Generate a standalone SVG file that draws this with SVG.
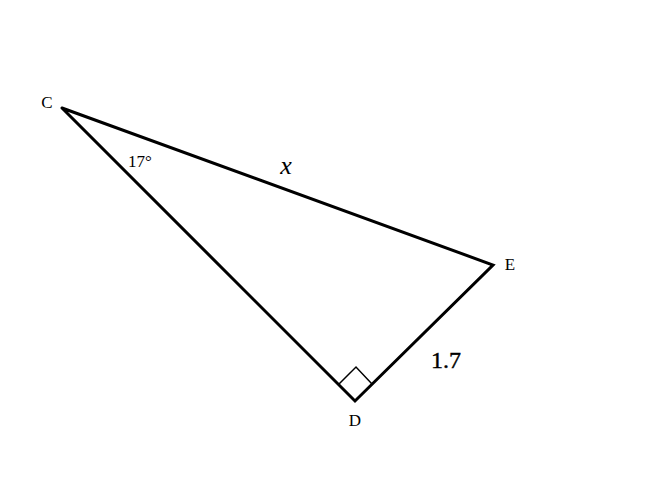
<svg xmlns="http://www.w3.org/2000/svg" width="670" height="502" viewBox="0 0 670 502">
<style>
.edge{fill:none;stroke:#000;stroke-width:3;stroke-linejoin:miter;stroke-linecap:round}
.mark{fill:none;stroke:#000;stroke-width:1.5}
.lbl{font-family:"Liberation Serif","DejaVu Serif",serif;fill:#000;text-anchor:middle}
</style>
<rect width="670" height="502" fill="#fff"/>
<g id="connectors">
<polyline class="edge" points="62,108 493,265 355,401 62,108"/>
<polyline class="mark" points="339,384 356,367 372,384"/>
</g>
<g id="C"><text class="lbl" x="47" y="108" font-size="17">C</text></g>
<g id="E"><text class="lbl" x="510" y="270" font-size="17">E</text></g>
<g id="D"><text class="lbl" x="355" y="426" font-size="17">D</text></g>
<g id="angle"><text class="lbl" x="140" y="167" font-size="17">17°</text></g>
<g id="x"><text class="lbl" x="286" y="174" font-size="26" font-style="italic">x</text></g>
<g id="len"><text class="lbl" x="446" y="368" font-size="24" stroke="#000" stroke-width="0.4">1.7</text></g>
</svg>
